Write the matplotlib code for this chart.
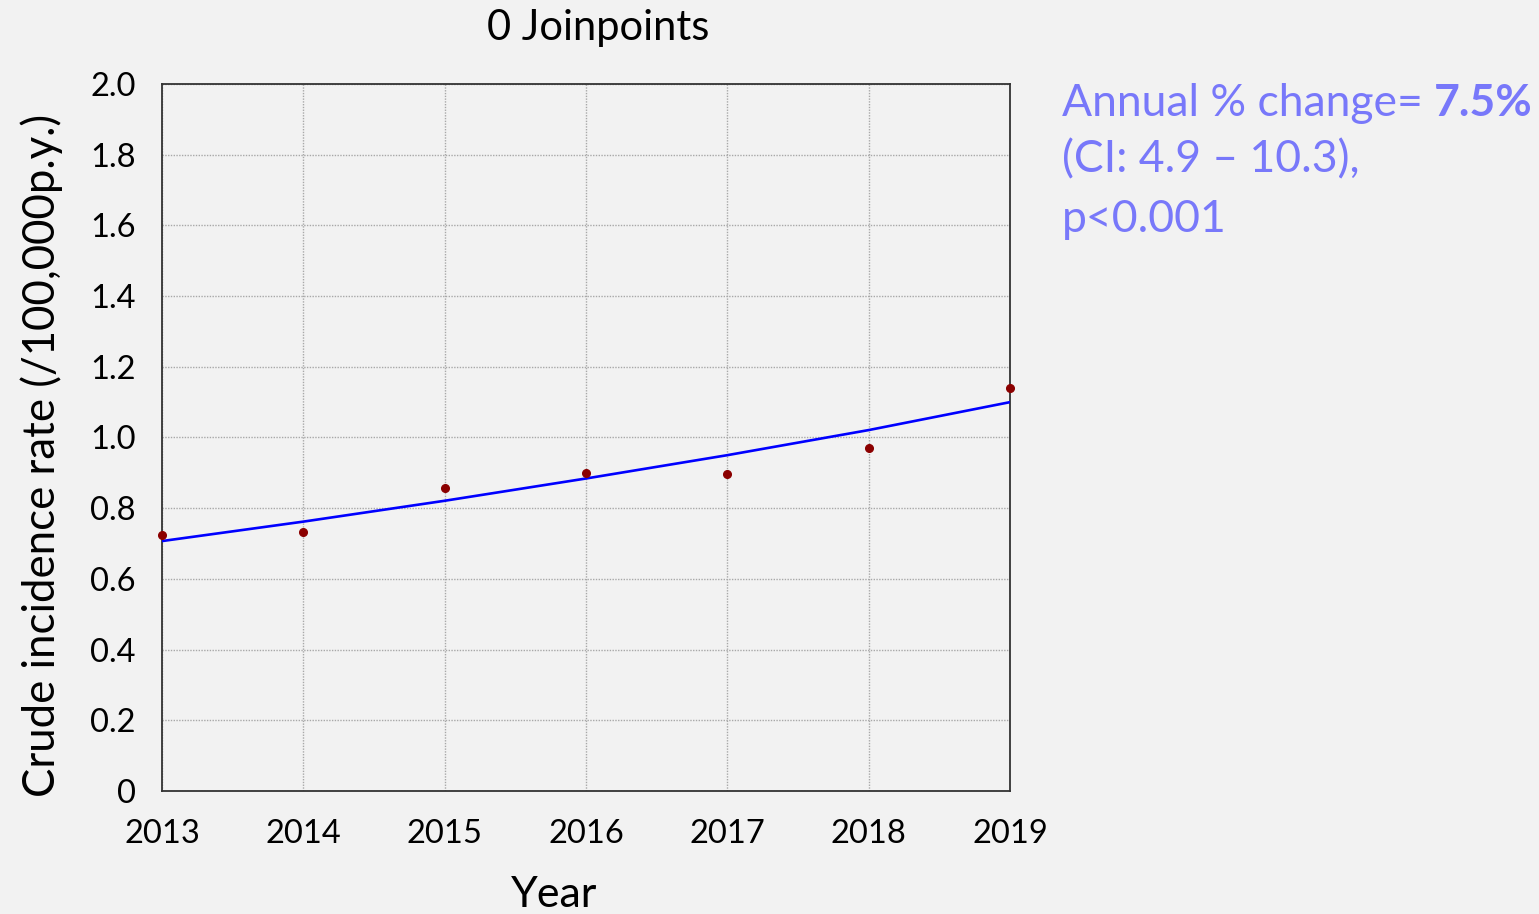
import matplotlib
matplotlib.use("Agg")
import matplotlib.pyplot as plt

# observed rates
years = [2013, 2014, 2015, 2016, 2017, 2018, 2019]
rate = [0.724, 0.732, 0.858, 0.900, 0.897, 0.969, 1.139]
# joinpoint model fit (0 joinpoints)
fit = [0.707, 0.762, 0.821, 0.884, 0.950, 1.021, 1.100]

yticks = [0, 0.2, 0.4, 0.6, 0.8, 1.0, 1.2, 1.4, 1.6, 1.8, 2.0]
ytick_labels = ['0', '0.2', '0.4', '0.6', '0.8', '1.0', '1.2', '1.4', '1.6', '1.8', '2.0']

plt.rcParams['font.family'] = ['Lato', 'DejaVu Sans']
bg = '#f2f2f2'
note_col = '#7878fa'

fig = plt.figure(figsize=(15.39, 9.14), dpi=100, facecolor=bg)
ax = fig.add_axes([0.1053, 0.1346, 0.551, 0.7735], facecolor=bg)

ax.plot(years, fit, color='#0000ff', linewidth=1.9, zorder=3)
ax.plot(years, rate, 'o', color='#8b0000', markersize=5.5, zorder=4, clip_on=False)

ax.set_xlim(2013, 2019)
ax.set_ylim(0, 2.0)
ax.set_xticks(years)
ax.set_yticks(yticks)
ax.set_yticklabels(ytick_labels)
ax.tick_params(axis='both', length=0, labelsize=23.5)
ax.tick_params(axis='y', pad=19)
ax.tick_params(axis='x', pad=20)
ax.grid(True, color='#a8a8a8', linestyle=(0, (1, 1)), linewidth=1.0)
for s in ax.spines.values():
    s.set_color('#333333')
    s.set_linewidth(1.3)

fig.text(598 / 1539, 1 - 28 / 914, '0 Joinpoints', fontsize=30, ha='center', va='center')
fig.text(554 / 1539, 1 - 895 / 914, 'Year', fontsize=31, ha='center', va='center')
fig.text(42 / 1539, 1 - 455 / 914, 'Crude incidence rate (/100,000p.y.)', fontsize=31.5,
         rotation=90, ha='center', va='center')

# annotation block
t1 = fig.text(1062 / 1539, 1 - 103 / 914, 'Annual % change= ', fontsize=32,
              color=note_col, ha='left', va='center')
ax.annotate('7.5%', xy=(1, 0), xycoords=t1, fontsize=32, color=note_col,
            fontweight='bold', ha='left', va='bottom', annotation_clip=False)
fig.text(1062 / 1539, 1 - 160 / 914, '(CI: 4.9 \u2013 10.3),', fontsize=32,
         color=note_col, ha='left', va='center')
fig.text(1062 / 1539, 1 - 220 / 914, 'p<0.001', fontsize=32,
         color=note_col, ha='left', va='center')

fig.savefig('out.png', dpi=100, facecolor=bg)
